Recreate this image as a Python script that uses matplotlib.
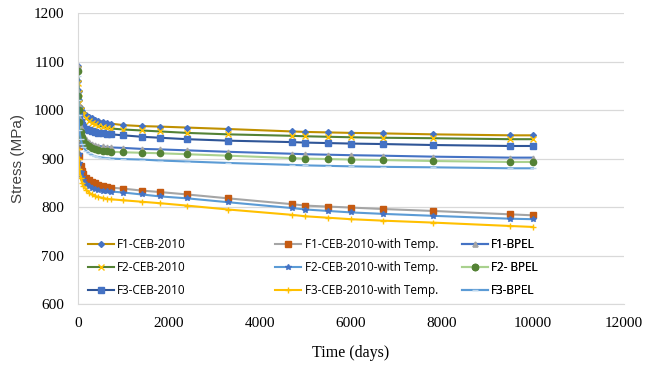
import matplotlib.pyplot as plt

# time (days) of the sampled points
days = [0, 7, 14, 28, 60, 90, 120, 180, 240, 300, 365, 450, 540, 630, 730,
        1000, 1400, 1800, 2400, 3300, 4700, 5000, 5500, 6000, 6700, 7800, 9500, 10000]

# stress (MPa) per model
f1_ceb = [1090, 1060, 1040, 1020, 1005, 998, 995, 990, 986, 983, 980, 978, 976, 974, 972,
          969, 967, 966, 964, 961, 956, 955, 954, 953, 952, 950, 948, 948]
f2_ceb = [1085, 1055, 1035, 1015, 1000, 993, 989, 983, 978, 974, 971, 968, 966, 964, 962,
          960, 958, 956, 953, 950, 947, 946, 945, 944, 943, 942, 940, 940]
f3_ceb = [1005, 995, 990, 983, 975, 970, 966, 962, 959, 957, 955, 953, 952, 951, 950,
          948, 945, 943, 940, 937, 934, 933, 932, 931, 930, 928, 926, 926]
f1_temp = [970, 945, 925, 905, 885, 875, 868, 860, 855, 852, 849, 846, 844, 842, 840,
           838, 834, 831, 826, 818, 806, 803, 801, 799, 796, 792, 785, 783]
f2_temp = [960, 930, 910, 890, 872, 862, 855, 848, 843, 840, 837, 835, 834, 833, 832,
           830, 826, 822, 818, 810, 798, 795, 792, 789, 786, 782, 776, 775]
f3_temp = [950, 920, 900, 878, 860, 850, 843, 836, 830, 826, 823, 821, 819, 817, 816,
           814, 811, 808, 803, 795, 784, 781, 778, 775, 772, 768, 761, 759]
f1_bpel = [1090, 1040, 1010, 985, 965, 955, 948, 940, 935, 931, 928, 926, 925, 924, 923,
           922, 920, 919, 917, 914, 910, 909, 908, 907, 906, 904, 902, 902]
f2_bpel = [1080, 1030, 1000, 975, 955, 945, 938, 930, 925, 921, 919, 917, 916, 915, 914,
           913, 912, 911, 909, 906, 901, 900, 899, 898, 897, 895, 893, 893]
f3_bpel = [1070, 1020, 990, 960, 940, 930, 923, 916, 911, 908, 905, 903, 902, 901, 900,
           899, 898, 896, 894, 891, 887, 886, 885, 884, 883, 882, 880, 880]

x_ticks = [0, 2000, 4000, 6000, 8000, 10000, 12000]
y_ticks = [600, 700, 800, 900, 1000, 1100, 1200]

# one legend column per group: (label, data, line colour, marker, marker colour, marker size)
groups = [
    [("F1-CEB-2010", f1_ceb, "#BF9000", "D", "#4472C4", 3),
     ("F2-CEB-2010", f2_ceb, "#548235", "x", "#FFC000", 4),
     ("F3-CEB-2010", f3_ceb, "#2F5597", "s", "#4472C4", 4.5)],
    [("F1-CEB-2010-with Temp.", f1_temp, "#A5A5A5", "s", "#C55A11", 4.5),
     ("F2-CEB-2010-with Temp.", f2_temp, "#5B9BD5", "*", "#4472C4", 4),
     ("F3-CEB-2010-with Temp.", f3_temp, "#FFC000", "+", "#FFC000", 4)],
    [("F1-BPEL", f1_bpel, "#4472C4", "^", "#A5A5A5", 3.5),
     ("F2- BPEL", f2_bpel, "#A9D18E", "o", "#548235", 4.5),
     ("F3-BPEL", f3_bpel, "#5B9BD5", "_", "#BDD7EE", 5)],
]
legend_x = [0.018, 0.361, 0.703]

fig = plt.figure(figsize=(6.45, 3.65), dpi=100)
ax = fig.add_axes([0.1209, 0.167, 0.8465, 0.797])

for grp, lx in zip(groups, legend_x):
    handles = []
    for label, vals, lc, mk, mc, ms in grp:
        h, = ax.plot(days, vals, color=lc, lw=1.5, marker=mk, markersize=ms,
                     markerfacecolor=mc, markeredgecolor=mc, label=label)
        handles.append(h)
    leg = ax.legend(handles=handles, loc="upper left", bbox_to_anchor=(lx, 0.228),
                    frameon=False, prop={"family": "Open Sans", "size": 8.5},
                    handlelength=2.2, handletextpad=0.3, labelspacing=0.85,
                    borderpad=0, borderaxespad=0)
    ax.add_artist(leg)

ax.set_xlim(0, 12000)
ax.set_ylim(600, 1200)
ax.set_xticks(x_ticks)
ax.set_yticks(y_ticks)
ax.grid(axis="y", color="#D9D9D9", lw=0.9)
ax.set_axisbelow(True)
ax.tick_params(axis="x", length=0, pad=9)
ax.tick_params(axis="y", length=0, pad=10)
for lab in ax.get_xticklabels() + ax.get_yticklabels():
    lab.set_family("Liberation Serif")
    lab.set_fontsize(11)
for s in ["top", "right"]:
    ax.spines[s].set_visible(False)
for s in ["left", "bottom"]:
    ax.spines[s].set_color("#D9D9D9")

ax.set_xlabel("Time (days)", family="Liberation Serif", fontsize=11.5, labelpad=11)
ax.set_ylabel("Stress (MPa)", family="Liberation Sans", fontsize=11,
              color="#404040", labelpad=6)

fig.savefig("out.png", dpi=100)
